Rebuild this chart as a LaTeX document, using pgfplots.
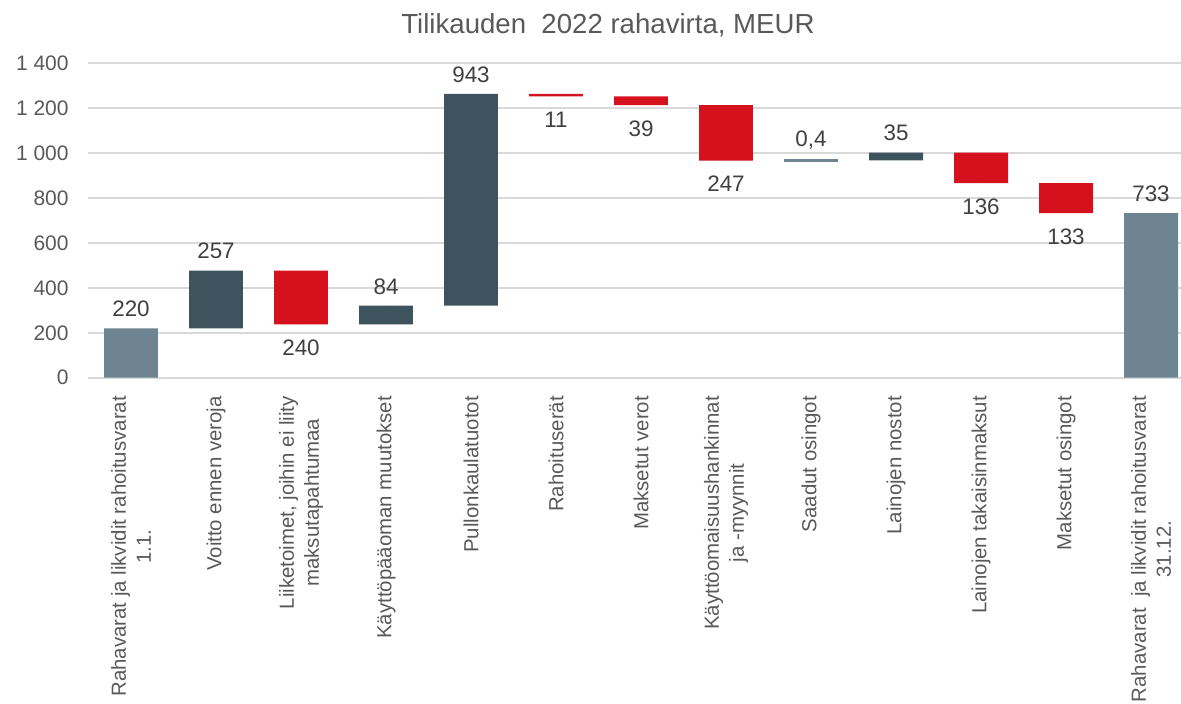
\documentclass[border=0pt]{standalone}
\usepackage{fontspec}
\setmainfont{Liberation Sans}
\usepackage{pgfplots}
\pgfplotsset{compat=1.18}
\definecolor{totc}{HTML}{6E8491}
\definecolor{posc}{HTML}{3D545E}
\definecolor{negc}{HTML}{D6111E}
\definecolor{gridc}{HTML}{D9D9D9}
\definecolor{txtc}{HTML}{595959}
\definecolor{lblc}{HTML}{404040}
\pgfplotstableread{
x base pos neg tot
0 0 0 0 220
1 220 257 0 0
2 237 0 240 0
3 237 84 0 0
4 321 943 0 0
5 1253 0 11 0
6 1214 0 39 0
7 967 0 247 0
8 967 0 0 0
9 967.4 35 0 0
10 866.4 0 136 0
11 733.4 0 133 0
12 0 0 0 733
}\wfdata
\begin{document}
\begin{tikzpicture}
\pgfplotsset{common/.style={width=546.25pt,height=157.2pt,scale only axis,
  xmin=-0.5,xmax=12.353,ymin=0,ymax=1400,at={(0,0)},anchor=south west}}
\begin{axis}[common, ybar stacked, bar width=0.635,
  axis line style={draw=none}, tick style={draw=none},
  ymajorgrids, major grid style={gridc, line width=1pt},
  ytick={0,200,...,1400},
  yticklabels={0,200,400,600,800,1 000,1 200,1 400},
  yticklabel style={font=\fontsize{10.5}{12}\selectfont, text=txtc, anchor=east, inner sep=0pt, xshift=-9.75pt},
  xtick={0,...,12},
  xticklabels={{Rahavarat ja likvidit rahoitusvarat\\1.1.},{Voitto ennen veroja},{Liiketoimet, joihin ei liity\\maksutapahtumaa},{Käyttöpääoman muutokset},{Pullonkaulatuotot},{Rahoituserät},{Maksetut verot},{Käyttöomaisuushankinnat\\ja -myynnit},{Saadut osingot},{Lainojen nostot},{Lainojen takaisinmaksut},{Maksetut osingot},{Rahavarat\ \ ja likvidit rahoitusvarat\\31.12.}},
  xticklabel style={font=\fontsize{10.2}{12.5}\selectfont, text=txtc, rotate=90, anchor=east, align=center, inner sep=0pt},
  xticklabel shift=9pt,
  title={Tilikauden\ \ 2022 rahavirta, MEUR},
  title style={at={(0.4755,1)}, anchor=base, yshift=9pt, font=\fontsize{13.8}{16}\selectfont, text=txtc, inner sep=0pt},
]
\addplot[draw=none, fill=none] table[x=x,y=base] {\wfdata};
\addplot[draw=none, fill=posc] table[x=x,y=pos] {\wfdata};
\addplot[draw=none, fill=negc] table[x=x,y=neg] {\wfdata};
\addplot[draw=none, fill=totc] table[x=x,y=tot] {\wfdata};
\end{axis}
\begin{axis}[common, hide axis, clip=false]
\addplot[only marks, mark=-, mark size=13.5pt, mark options={line width=1.2pt, draw=totc}] coordinates {(8,967.2)};
\addplot[only marks, mark=*, mark size=0pt, mark options={draw=none,fill=none},
  nodes near coords, point meta=explicit symbolic,
  nodes near coords style={anchor=south, inner sep=0pt, yshift=5.5pt, font=\fontsize{11.2}{13}\selectfont, text=lblc}]
  table[x=x,y=y,meta=l] {
x y l
0 220 220
1 477 257
3 321 84
4 1264 943
8 967.4 0,4
9 1002.4 35
12 733 733
};
\addplot[only marks, mark=*, mark size=0pt, mark options={draw=none,fill=none},
  nodes near coords, point meta=explicit symbolic,
  nodes near coords style={anchor=north, inner sep=0pt, yshift=-7.5pt, font=\fontsize{11.2}{13}\selectfont, text=lblc}]
  table[x=x,y=y,meta=l] {
x y l
2 237 240
5 1253 11
6 1214 39
7 967 247
10 866.4 136
11 733.4 133
};
\end{axis}
\pgfresetboundingbox
\useasboundingbox (-44.25pt,-162.65pt) rectangle (546.25pt,188.85pt);
\end{tikzpicture}
\end{document}
